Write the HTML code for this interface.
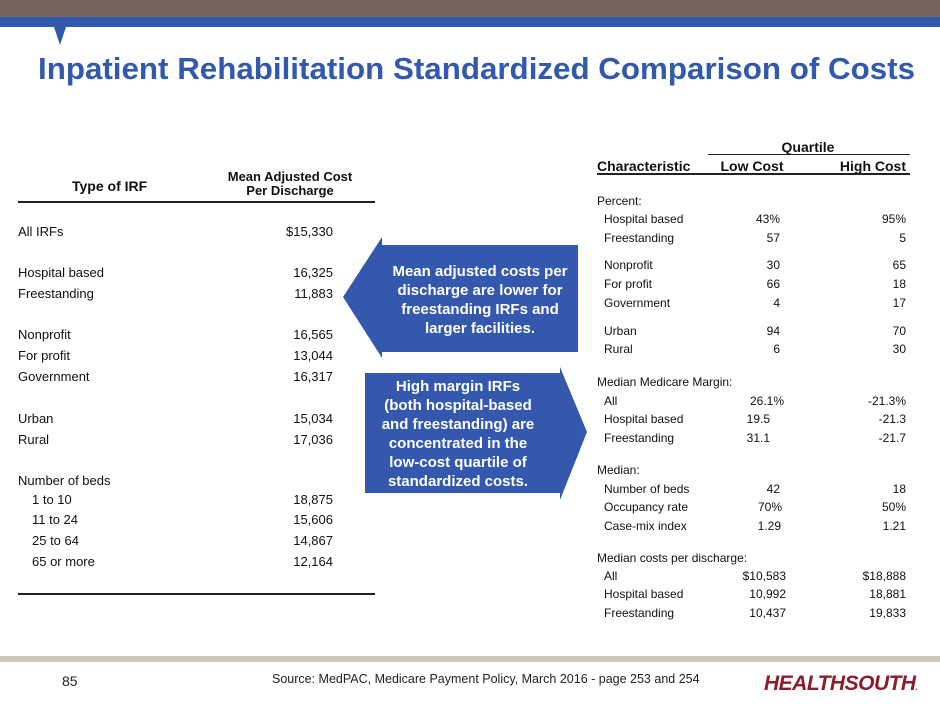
<!DOCTYPE html>
<html><head><meta charset="utf-8"><style>
body{margin:0;width:940px;height:705px;position:relative;background:#fff;font-family:"Liberation Sans",Arial,sans-serif;overflow:hidden}
.a{position:absolute;white-space:nowrap}
.l{font-size:13px;color:#111}
.r{font-size:12px;color:#111}
.b{font-weight:bold}
</style></head><body>
<div class="a" style="left:0;top:0;width:940px;height:17px;background:#75665d"></div>
<div class="a" style="left:0;top:17px;width:940px;height:10px;background:#3159ad"></div>
<svg class="a" style="left:0;top:0" width="940" height="100"><polygon points="54,27 66,27 60,45" fill="#3159ad"/>
<text x="38" y="79" font-family="Liberation Sans, sans-serif" font-weight="bold" font-size="31" fill="#3159ad" textLength="877" lengthAdjust="spacingAndGlyphs">Inpatient Rehabilitation Standardized Comparison of Costs</text></svg>

<div>
<div class="a l b" style="left:72px;top:178px;font-size:14px">Type of IRF</div>
<div class="a l b" style="left:210px;top:170px;width:160px;text-align:center;line-height:14px">Mean Adjusted Cost<br>Per Discharge</div>
<div class="a" style="left:18px;top:201px;width:357px;height:2px;background:#222"></div>
<div class="a" style="left:18px;top:593px;width:357px;height:2px;background:#222"></div>
<div id="lt"></div>
</div>

<div>
<div class="a l b" style="left:708px;top:139px;width:200px;text-align:center;font-size:14px">Quartile</div>
<div class="a" style="left:708px;top:154px;width:202px;height:1px;background:#222"></div>
<div class="a l b" style="left:597px;top:158px;font-size:14px">Characteristic</div>
<div class="a l b" style="left:712px;top:158px;width:80px;text-align:center;font-size:14px">Low Cost</div>
<div class="a l b" style="left:806px;top:158px;width:100px;text-align:right;font-size:14px">High Cost</div>
<div class="a" style="left:597px;top:173px;width:313px;height:2px;background:#222"></div>
<div id="rt"></div>
</div>

<svg class="a" style="left:0;top:0" width="940" height="705">
<polygon points="343,297 382,237 382,245 578,245 578,352 382,352 382,358" fill="#3358ad"/>
<polygon points="365,373 560,373 560,367 587,432 560,500 560,493 365,493" fill="#3358ad"/>
<g font-family="Liberation Sans, sans-serif" font-weight="bold" font-size="15" fill="#fff" text-anchor="middle">
<text x="480" y="276">Mean adjusted costs per</text>
<text x="480" y="295">discharge are lower for</text>
<text x="480" y="314">freestanding IRFs and</text>
<text x="480" y="333">larger facilities.</text>
<text x="458" y="391">High margin IRFs</text>
<text x="458" y="410">(both hospital-based</text>
<text x="458" y="429">and freestanding) are</text>
<text x="458" y="448">concentrated in the</text>
<text x="458" y="467">low-cost quartile of</text>
<text x="458" y="486">standardized costs.</text>
</g></svg>

<div class="a" style="left:0;top:656px;width:940px;height:6px;background:#cfc9bb"></div>
<div class="a" style="left:62px;top:673px;font-size:14px;color:#222">85</div>
<div class="a" style="left:272px;top:672px;font-size:12.5px;color:#222">Source: MedPAC, Medicare Payment Policy, March 2016 - page 253 and 254</div>
<div class="a" style="left:764px;top:672px;font-size:21px;font-weight:bold;font-style:italic;color:#8c1b2c;letter-spacing:-0.5px">HEALTHSOUTH<span style="font-size:8px">.</span></div>

<script>
const leftLabels=["All IRFs","Hospital based","Freestanding","Nonprofit","For profit","Government","Urban","Rural","Number of beds","  1 to 10","  11 to 24","  25 to 64","  65 or more"];
const leftValues=["$15,330","16,325","11,883","16,565","13,044","16,317","15,034","17,036","","18,875","15,606","14,867","12,164"];
const leftRowY=[232,273,294,335,356,377,419,440,481,500,520,541,562];
const lt=document.getElementById('lt');
leftLabels.forEach((t,i)=>{
 const d=document.createElement('div');d.className='a l';
 
 
 d.style.left=(t.startsWith('  ')?32:18)+'px';d.style.top=(leftRowY[i]-8)+'px';d.textContent=t.trim();lt.appendChild(d);
 const v=document.createElement('div');v.className='a l';
 
 
 v.style.left='233px';v.style.width='100px';v.style.textAlign='right';v.style.top=(leftRowY[i]-8)+'px';v.textContent=leftValues[i];lt.appendChild(v);
});
const rightLabels=["Percent:"," Hospital based"," Freestanding"," Nonprofit"," For profit"," Government"," Urban"," Rural","Median Medicare Margin:"," All"," Hospital based"," Freestanding","Median:"," Number of beds"," Occupancy rate"," Case-mix index","Median costs per discharge:"," All"," Hospital based"," Freestanding"];
const lowValues=["","43%","57","30","66","4","94","6","","26.1%","19.5","31.1","","42","70%","1.29","","$10,583","10,992","10,437"];
const highValues=["","95%","5","65","18","17","70","30","","-21.3%","-21.3","-21.7","","18","50%","1.21","","$18,888","18,881","19,833"];
const rightRowY=[201,219,238,265,284,303,331,349,382,401,419,438,470,489,507,526,558,576,594,613];
const lowRight=[0,780,780,780,780,780,780,780,0,784,770,770,0,780,782,781,0,786,786,786];
const rt=document.getElementById('rt');
rightLabels.forEach((t,i)=>{
 const d=document.createElement('div');d.className='a r';
 
 
 d.style.left=(t.startsWith(' ')?604:597)+'px';d.style.top=(rightRowY[i]-7)+'px';d.textContent=t.trim();rt.appendChild(d);
 const lo=document.createElement('div');lo.className='a r';
 
 
 lo.style.left=(lowRight[i]-100)+'px';lo.style.width='100px';lo.style.textAlign='right';lo.style.top=(rightRowY[i]-7)+'px';lo.textContent=lowValues[i];rt.appendChild(lo);
 const hi=document.createElement('div');hi.className='a r';
 
 
 hi.style.left='806px';hi.style.width='100px';hi.style.textAlign='right';hi.style.top=(rightRowY[i]-7)+'px';hi.textContent=highValues[i];rt.appendChild(hi);
});
</script>
</body></html>
